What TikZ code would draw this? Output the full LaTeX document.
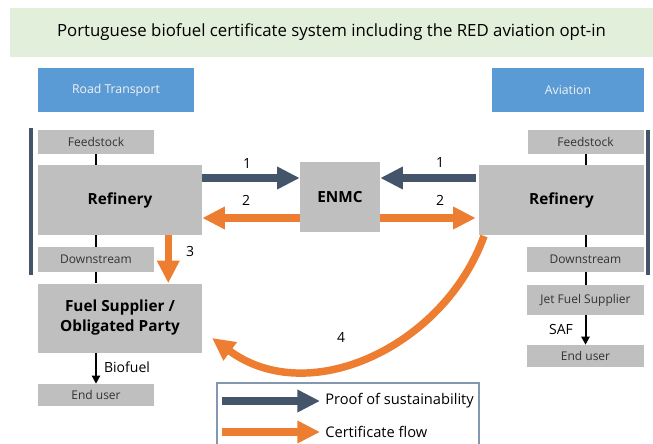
\documentclass[tikz,border=0pt]{standalone}
\usepackage{fontspec}
\setmainfont{Open Sans}
\usetikzlibrary{arrows.meta,calc}
\definecolor{navy}{HTML}{44546A}
\definecolor{orng}{HTML}{ED7D31}
\definecolor{boxgray}{HTML}{BFBFBF}
\definecolor{hdrblue}{HTML}{5B9BD5}
\definecolor{ttlgreen}{HTML}{E2EFDA}
\definecolor{lgborder}{HTML}{8497B0}
\tikzset{
  gbox/.style={fill=boxgray, draw=none, inner sep=0pt, align=center},
  smallbox/.style={gbox, font=\fontsize{9}{10}\selectfont, text=black!80},
  bigbox/.style={gbox, font=\fontsize{11.5}{15}\selectfont\bfseries},
  hdr/.style={fill=hdrblue, draw=none, inner sep=0pt, text=white!95!black, font=\fontsize{9.2}{11}\selectfont},
  fatnavy/.style={draw=navy, line width=5.6pt, -{Triangle[length=17pt,width=16pt]}},
  fatorng/.style={draw=orng, line width=5.6pt, -{Triangle[length=17pt,width=16pt]}},
  thinlink/.style={draw=black, line width=1.5pt},
  thinarrow/.style={draw=black, line width=1.5pt, -{Triangle[length=6pt,width=6pt]}},
  lbl/.style={font=\fontsize{10.5}{12}\selectfont, inner sep=0pt},
  lgl/.style={font=\fontsize{11}{13}\selectfont, inner sep=0pt},
  sidebar/.style={draw=navy, line width=2.6pt}
}
\begin{document}
\begin{tikzpicture}[x=0.75pt,y=-0.75pt]
\useasboundingbox (0,0) rectangle (653,443);
% title
\node[fill=ttlgreen, minimum width=643*0.75pt, minimum height=49*0.75pt, inner sep=0pt, font=\fontsize{12.6}{15}\selectfont] (title) at (331.5,32.5) {Portuguese biofuel certificate system including the RED aviation opt-in};
% headers
\node[hdr, minimum width=156*0.75pt, minimum height=44*0.75pt] (road) at (116,90) {Road Transport};
\node[hdr, minimum width=152*0.75pt, minimum height=44*0.75pt] (avia) at (568,90) {Aviation};
% side bars
\coordinate (barLt) at (31,128); \coordinate (barLb) at (31,275);
\coordinate (barRt) at (648,130); \coordinate (barRb) at (648,275);
\draw[sidebar] (barLt) -- (barLb);
\draw[sidebar] (barRt) -- (barRb);
% left column
\node[smallbox, minimum width=116*0.75pt, minimum height=24*0.75pt] (feedL) at (96,142) {Feedstock};
\node[bigbox, minimum width=164*0.75pt, minimum height=70*0.75pt] (refL) at (120,200) {Refinery};
\node[smallbox, minimum width=116*0.75pt, minimum height=25*0.75pt] (downL) at (96,259.5) {Downstream};
\node[bigbox, minimum width=164*0.75pt, minimum height=69*0.75pt] (fuelL) at (120,318) {Fuel Supplier /\\Obligated Party};
\node[smallbox, minimum width=116*0.75pt, minimum height=22*0.75pt] (endL) at (96,395) {End user};
% right column
\node[smallbox, minimum width=116*0.75pt, minimum height=24*0.75pt] (feedR) at (585.5,142) {Feedstock};
\node[bigbox, minimum width=165*0.75pt, minimum height=70*0.75pt] (refR) at (561.5,200) {Refinery};
\node[smallbox, minimum width=117*0.75pt, minimum height=25*0.75pt] (downR) at (585.5,259.5) {Downstream};
\node[smallbox, minimum width=117*0.75pt, minimum height=30*0.75pt] (jetR) at (585.5,300) {Jet Fuel Supplier};
\node[smallbox, minimum width=117*0.75pt, minimum height=22*0.75pt] (endR) at (585.5,356) {End user};
% centre
\node[bigbox, minimum width=80*0.75pt, minimum height=70*0.75pt] (enmc) at (340,197) {ENMC};
% thin links
\draw[thinlink] (feedL.south) -- (feedL.south |- refL.north);
\draw[thinlink] (downL.north |- refL.south) -- (downL.north);
\draw[thinlink] (downL.south) -- (downL.south |- fuelL.north);
\draw[thinarrow] (endL.north |- fuelL.south) -- (endL.north);
\draw[thinlink] (feedR.south) -- (feedR.south |- refR.north);
\draw[thinlink] (downR.north |- refR.south) -- (downR.north);
\draw[thinlink] (downR.south) -- (jetR.north);
\draw[thinarrow] (jetR.south) -- (endR.north);
\node[lbl] (biof) at (127,367) {Biofuel};
\node[lbl] (saf) at (561,329) {SAF};
% big arrows
\draw[fatnavy] ($(refL.east)+(0,-22)$) -- ($(refL.east -| enmc.west)+(0,-22)$);
\draw[fatnavy] ($(refR.west)+(-3,-22)$) -- ($(refR.west -| enmc.east)+(0,-22)$);
\draw[fatorng] ($(refL.east -| enmc.west)+(0,18)$) -- ($(refL.east)+(0,18)$);
\draw[fatorng] ($(refR.west -| enmc.east)+(0,18)$) -- ($(refR.west)+(-3,18)$);
\draw[fatorng] ($(refL.south east)+(-34,0)$) -- ($(fuelL.north east)+(-34,0)$);
\coordinate (c4s) at (484,236);
\coordinate (c4e) at (212,338);
\draw[fatorng] (c4s) .. controls (445,345) and (310,410) .. (c4e);
\node[lbl] (n1l) at (247,163) {1};
\node[lbl] (n1r) at (440,162) {1};
\node[lbl] (n2l) at (246,200) {2};
\node[lbl] (n2r) at (440,200) {2};
\node[lbl] (n3) at (190,251) {3};
\node[lbl] (n4) at (341,337) {4};
% legend
\draw[draw=lgborder, line width=1.3pt] (217,446) -- (217,383) -- (479,383) -- (479,446);
\coordinate (lgA) at (222,401); \coordinate (lgAt) at (320,401);
\coordinate (lgB) at (222,432); \coordinate (lgBt) at (320,432);
\draw[fatnavy] (lgA) -- (lgAt);
\draw[fatorng] (lgB) -- (lgBt);
\node[lgl, anchor=west] (lgtA) at (325,401) {Proof of sustainability};
\node[lgl, anchor=west] (lgtB) at (325,432) {Certificate flow};
\end{tikzpicture}
\end{document}
